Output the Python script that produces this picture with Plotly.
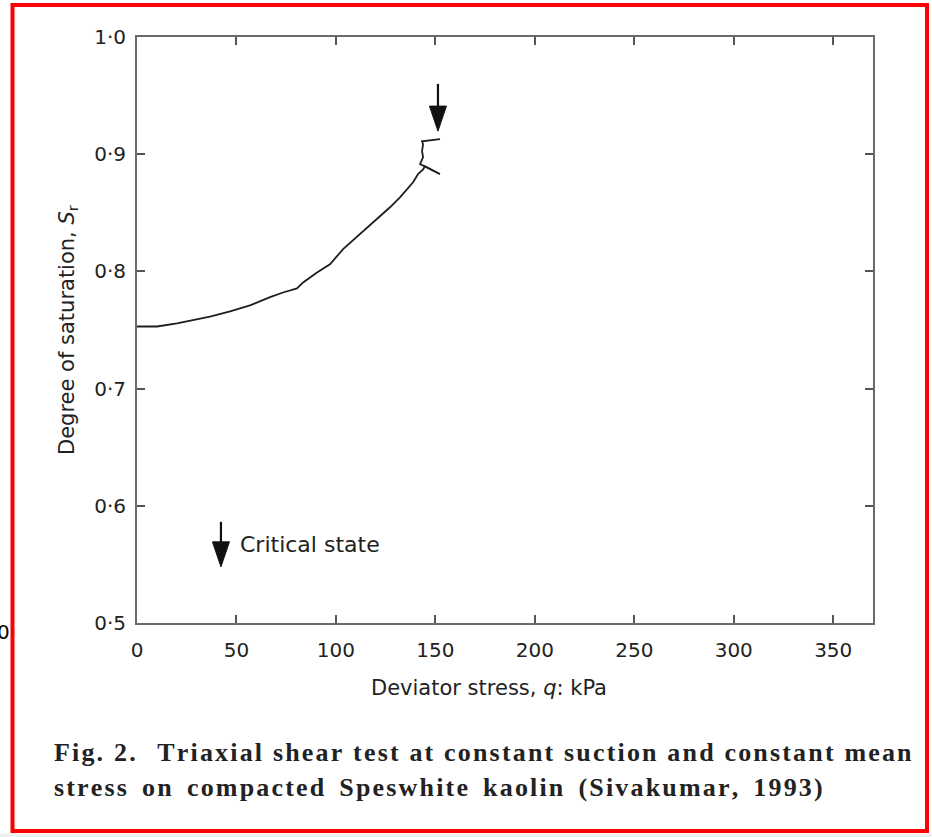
import plotly.graph_objects as go

# ---- data ----
q_kpa = [0, 10.1, 20.1, 30.2, 36.7, 46.8, 56.8, 66.9, 73.4, 80.4, 83.5, 90.5, 97.0,
         103.6, 112.1, 122.2, 127.2, 132.2, 135.7, 138.8, 141.3, 143.8, 144.8,
         152.3, 144.8, 142.3, 143.8, 143.3, 143.8, 143.3, 152.3]
s_r = [0.753, 0.753, 0.7556, 0.759, 0.7615, 0.7658, 0.771, 0.778, 0.782, 0.7855,
       0.7906, 0.799, 0.806, 0.819, 0.8316, 0.847, 0.8547, 0.8632, 0.870, 0.876,
       0.883, 0.887, 0.8897, 0.883, 0.8897, 0.8915, 0.8974, 0.9026, 0.9085, 0.911,
       0.9128]

x_ticks = [0, 50, 100, 150, 200, 250, 300, 350]
x_ticktext = ["0", "50", "100", "150", "200", "250", "300", "350"]
y_ticks = [0.5, 0.6, 0.7, 0.8, 0.9, 1.0]
y_ticktext = ["0·5", "0·6", "0·7", "0·8", "0·9", "1·0"]

# arrows (critical state markers)
arrow_q = [151.3, 42.2]
arrow_top = [0.960, 0.5863]
arrow_tip = [0.9197, 0.5479]

caption_words = [
    ["Fig.", "2.", "", "Triaxial", "shear", "test", "at", "constant", "suction", "and", "constant", "mean"],
    ["stress", "on", "compacted", "Speswhite", "kaolin", "(Sivakumar,", "1993)"],
]
caption_gap = ["\u00a0\u200a\u200a", "\u00a0\u00a0\u200a"]

# ---- layout geometry ----
W, H = 932, 837
ML, MR, MT, MB = 137, 59, 37, 214
XR = [0, 370]
YR = [0.5, 1.0]
pw = W - ML - MR
ph = H - MT - MB
px_per_q = pw / (XR[1] - XR[0])
px_per_s = ph / (YR[1] - YR[0])

def px_to_paper_x(px):
    return (px - ML) / pw

def px_to_paper_y(py):
    return (H - MB - py) / ph

fig = go.Figure()
fig.add_trace(go.Scatter(x=q_kpa, y=s_r, mode="lines",
                         line=dict(color="#1e1e1e", width=1.8),
                         showlegend=False, hoverinfo="skip"))

shapes = []
head_len = 25 / px_per_s
head_hw = 8.5 / px_per_q
for xq, yt, yp in zip(arrow_q, arrow_top, arrow_tip):
    shapes.append(dict(type="line", xref="x", yref="y", x0=xq, x1=xq,
                       y0=yt, y1=yp + head_len * 0.8,
                       line=dict(color="#111", width=2.2)))
    shapes.append(dict(type="path", xref="x", yref="y",
                       path=f"M {xq - head_hw},{yp + head_len} L {xq + head_hw},{yp + head_len} L {xq},{yp} Z",
                       fillcolor="#111", line=dict(color="#111", width=1)))

# red frame and grey strip
shapes.append(dict(type="rect", xref="paper", yref="paper",
                   x0=px_to_paper_x(12.5), x1=px_to_paper_x(927),
                   y0=px_to_paper_y(831), y1=px_to_paper_y(5),
                   line=dict(color="#ff0000", width=4), fillcolor="rgba(0,0,0,0)",
                   layer="above"))
shapes.append(dict(type="rect", xref="paper", yref="paper",
                   x0=px_to_paper_x(0), x1=px_to_paper_x(932),
                   y0=px_to_paper_y(840), y1=px_to_paper_y(833.5),
                   line=dict(width=0), fillcolor="#f0f0f0", layer="below"))

sans = "DejaVu Sans"
annotations = [
    dict(text="Critical state", x=px_to_paper_x(238), y=px_to_paper_y(544),
         xref="paper", yref="paper", xanchor="left", yanchor="middle",
         showarrow=False, font=dict(family=sans, size=22, color="#222")),
    dict(text="Deviator stress, <i>q</i>: kPa", x=px_to_paper_x(489), y=px_to_paper_y(688),
         xref="paper", yref="paper", xanchor="center", yanchor="middle",
         showarrow=False, font=dict(family=sans, size=21, color="#222")),
    dict(text="Degree of saturation, <i>S</i><sub>r</sub>", x=px_to_paper_x(68), y=px_to_paper_y(330),
         xref="paper", yref="paper", xanchor="center", yanchor="middle", textangle=-90,
         showarrow=False, font=dict(family=sans, size=21, color="#222")),
    dict(text="0", x=px_to_paper_x(3), y=px_to_paper_y(632),
         xref="paper", yref="paper", xanchor="center", yanchor="middle",
         showarrow=False, font=dict(family=sans, size=20, color="#000")),
]
for words, gap, cy in zip(caption_words, caption_gap, [752, 787]):
    spaced = ["\u200a".join(list(w)) for w in words]
    line_txt = gap.join(spaced)
    annotations.append(dict(text="<b>" + line_txt + "</b>", x=px_to_paper_x(52), y=px_to_paper_y(cy),
                            xref="paper", yref="paper", xanchor="left", yanchor="middle",
                            showarrow=False,
                            font=dict(family="Liberation Serif", size=26, color="#222")))

axis_common = dict(showline=True, linecolor="#6a6a6a", linewidth=2, mirror="ticks",
                   ticks="inside", ticklen=8, tickwidth=1.5, tickcolor="#555",
                   showgrid=False, zeroline=False,
                   tickfont=dict(family=sans, size=20, color="#222"))

fig.update_layout(
    width=W, height=H,
    margin=dict(l=ML, r=MR, t=MT, b=MB),
    paper_bgcolor="white", plot_bgcolor="white",
    xaxis=dict(range=XR, tickvals=x_ticks, ticktext=x_ticktext, ticklabelstandoff=8, **axis_common),
    yaxis=dict(range=YR, tickvals=y_ticks, ticktext=y_ticktext, ticklabelstandoff=5, **axis_common),
    shapes=shapes,
    annotations=annotations,
)

fig.write_html("out.html")
